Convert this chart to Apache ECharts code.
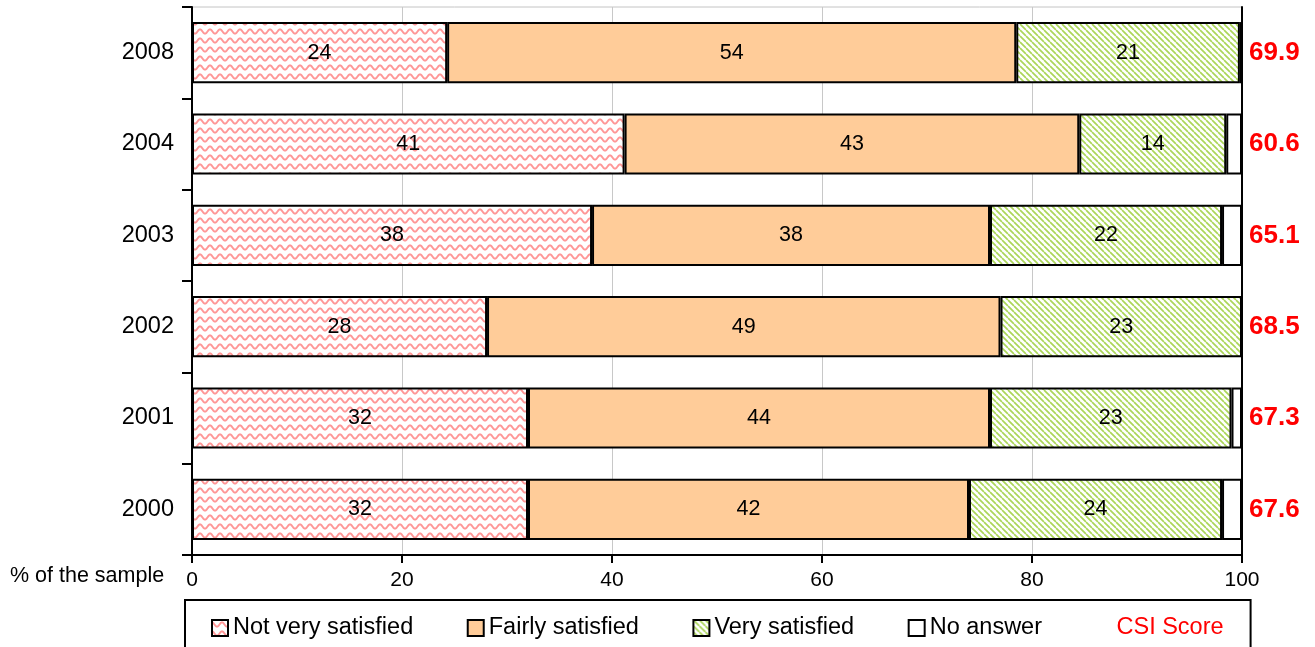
<!DOCTYPE html>
<html>
<head>
<meta charset="utf-8">
<script src="https://cdn.jsdelivr.net/npm/echarts@6/dist/echarts.min.js"></script>
<style>html,body{margin:0;padding:0;background:#fff}#c{width:1315px;height:647px}</style>
</head>
<body>
<div id="c"></div>
<script>
const years = ['2000', '2001', '2002', '2003', '2004', '2008'];
const notVerySatisfied = [32.0, 32.0, 28.1, 38.1, 41.2, 24.3];
const fairlySatisfied = [42.0, 44.0, 48.9, 37.9, 43.3, 54.2];
const verySatisfied = [24.1, 23.0, 23.0, 22.1, 14.0, 21.3];
const noAnswer = [1.9, 1.0, 0.0, 1.9, 1.5, 0.2];
const csiScores = ['67.6', '67.3', '68.5', '65.1', '60.6', '69.9'];
const xMin = 0, xMax = 100, xStep = 20;

const FONT = 'Liberation Sans, Arial, sans-serif';

function wavePattern() {
  const c = document.createElement('canvas');
  c.width = 10; c.height = 9;
  const g = c.getContext('2d');
  g.fillStyle = '#fff'; g.fillRect(0, 0, 10, 9);
  g.strokeStyle = '#ff9797'; g.lineWidth = 1.9;
  g.beginPath();
  for (let x = -1; x <= 11; x += 0.5) {
    const y = 4.5 - 2.1 * Math.cos(2 * Math.PI * x / 10);
    if (x === -1) g.moveTo(x, y); else g.lineTo(x, y);
  }
  g.stroke();
  return { image: c, repeat: 'repeat' };
}
function stripePattern() {
  const s = 6;
  const c = document.createElement('canvas');
  c.width = s; c.height = s;
  const g = c.getContext('2d');
  g.fillStyle = '#fff'; g.fillRect(0, 0, s, s);
  g.strokeStyle = '#acd65a'; g.lineWidth = 1.7;
  g.beginPath();
  for (const o of [-s, 0, s]) { g.moveTo(o, 0); g.lineTo(o + s, s); }
  g.stroke();
  return { image: c, repeat: 'repeat' };
}

const labelCfg = {
  show: true, position: 'inside', color: '#000', fontSize: 21.5, fontFamily: FONT,
  formatter: p => Math.round(p.value)
};
const itemBase = { borderColor: '#000', borderWidth: 2 };

const chart = echarts.init(document.getElementById('c'));
chart.setOption({
  animation: false,
  backgroundColor: '#fff',
  grid: { left: 192, right: 73, top: 7, bottom: 92, show: true, borderColor: '#c4c4c4', borderWidth: 1 },
  xAxis: {
    type: 'value', min: xMin, max: xMax, interval: xStep,
    axisLine: { show: true, lineStyle: { color: '#000', width: 2 } },
    axisTick: { show: true, length: 8, lineStyle: { color: '#000', width: 2 } },
    axisLabel: { color: '#000', fontSize: 21, fontFamily: FONT, margin: 15 },
    splitLine: { show: true, lineStyle: { color: '#c8c8c8', width: 1 } }
  },
  yAxis: [
    {
      type: 'category', data: years,
      axisLine: { show: true, lineStyle: { color: '#000', width: 2 } },
      axisTick: { show: true, length: 10, lineStyle: { color: '#000', width: 2 } },
      axisLabel: { color: '#000', fontSize: 23.5, fontFamily: FONT, margin: 18 }
    },
    {
      type: 'category', data: csiScores, position: 'right',
      axisLine: { show: true, lineStyle: { color: '#000', width: 2 } },
      axisTick: { show: false },
      axisLabel: { color: '#ff0000', fontSize: 26, fontWeight: 'bold', fontFamily: FONT, margin: 7 }
    }
  ],
  legend: {
    left: 185, top: 600,
    padding: [16, 27, 12, 26],
    itemGap: 53.5,
    itemWidth: 16, itemHeight: 16,
    icon: 'rect',
    borderColor: '#000', borderWidth: 2,
    textStyle: { color: '#000', fontSize: 23.5, fontFamily: FONT },
    data: [
      'Not very satisfied', 'Fairly satisfied', 'Very satisfied', 'No answer',
      { name: 'CSI Score', icon: 'none', textStyle: { color: '#ff0000' } }
    ]
  },
  graphic: [{
    type: 'text', left: 10, top: 565,
    style: { text: '% of the sample', fontSize: 21.5, fontFamily: FONT, fill: '#000' }
  }],
  series: [
    { name: 'Not very satisfied', type: 'bar', stack: 's', barCategoryGap: '33%',
      data: notVerySatisfied, itemStyle: Object.assign({ color: wavePattern() }, itemBase), label: labelCfg },
    { name: 'Fairly satisfied', type: 'bar', stack: 's',
      data: fairlySatisfied, itemStyle: Object.assign({ color: '#ffcc99' }, itemBase), label: labelCfg },
    { name: 'Very satisfied', type: 'bar', stack: 's',
      data: verySatisfied, itemStyle: Object.assign({ color: stripePattern() }, itemBase), label: labelCfg },
    { name: 'No answer', type: 'bar', stack: 's',
      data: noAnswer, itemStyle: Object.assign({ color: '#ffffff' }, itemBase), label: { show: false } },
    { name: 'CSI Score', type: 'line', data: [], itemStyle: { color: '#ff0000' } }
  ]
});
</script>
</body>
</html>
